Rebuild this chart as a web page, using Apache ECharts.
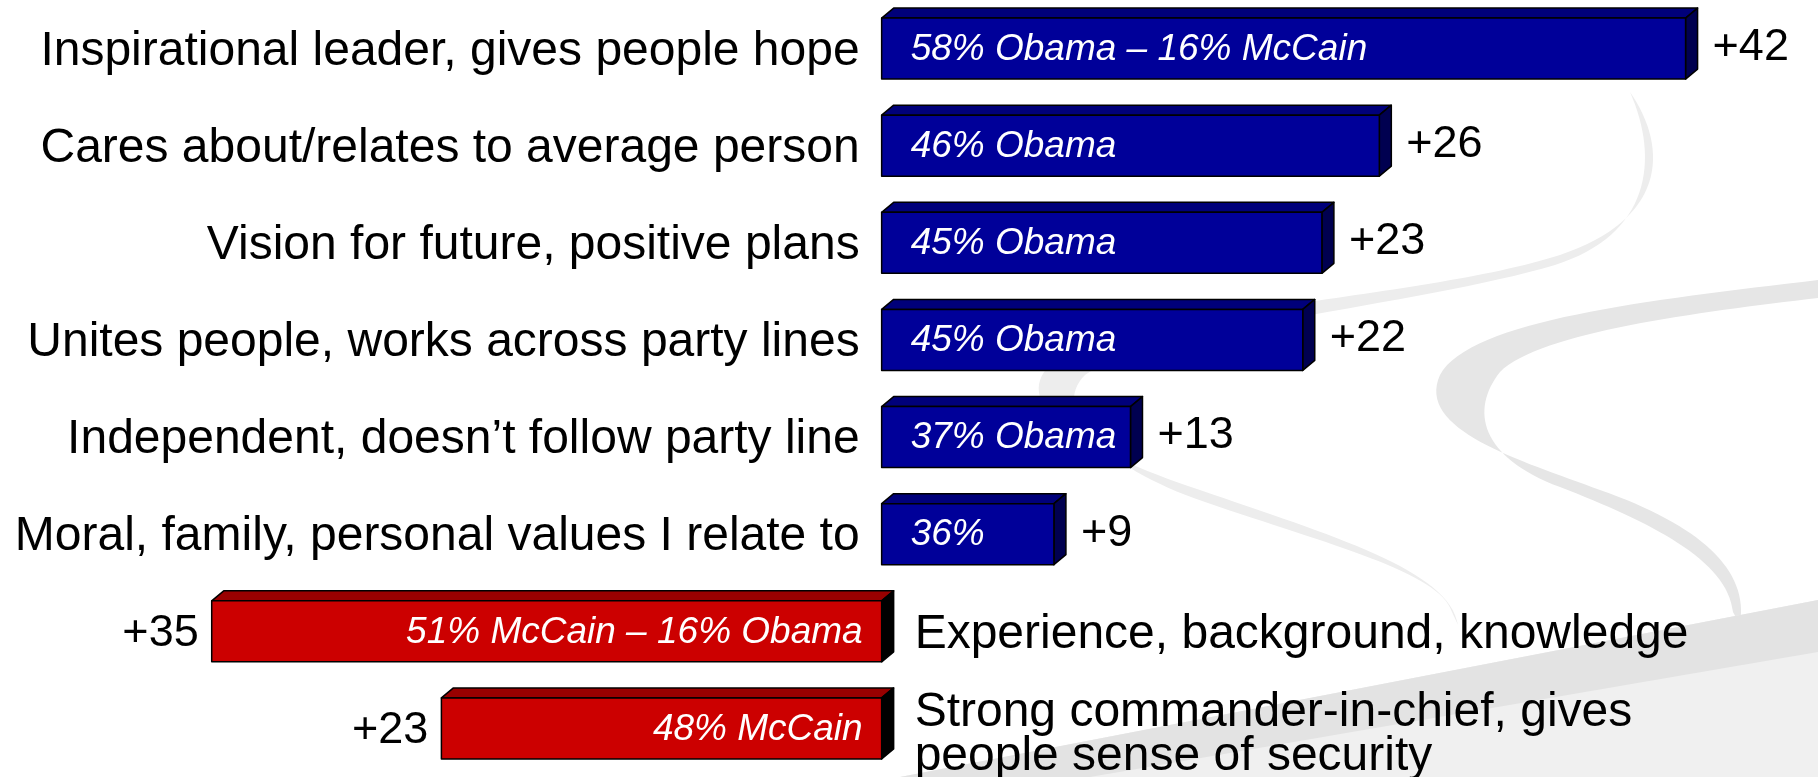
<!DOCTYPE html>
<html>
<head>
<meta charset="utf-8">
<title>Candidate attributes: Obama vs McCain</title>
<script src="https://cdn.jsdelivr.net/npm/echarts@6/dist/echarts.min.js"></script>
<style>
  html, body { margin: 0; padding: 0; background: #ffffff; }
  #chart { width: 1818px; height: 777px; }
</style>
</head>
<body>
<div id="chart"></div>
<script>
// Attributes and which candidate leads on each, with the lead in points
const categories = [
  'Inspirational leader, gives people hope',
  'Cares about/relates to average person',
  'Vision for future, positive plans',
  'Unites people, works across party lines',
  'Independent, doesn\u2019t follow party line',
  'Moral, family, personal values I relate to',
  'Experience, background, knowledge',
  'Strong commander-in-chief, gives\npeople sense of security'
];
const leaders = ['Obama', 'Obama', 'Obama', 'Obama', 'Obama', 'Obama', 'McCain', 'McCain'];
const margins = [42, 26, 23, 22, 13, 9, 35, 23];
const shareLabels = [
  '58% Obama \u2013 16% McCain',
  '46% Obama',
  '45% Obama',
  '45% Obama',
  '37% Obama',
  '36%',
  '51% McCain \u2013 16% Obama',
  '48% McCain'
];

// Obama leads grow to the right of zero, McCain leads to the left
const barData = categories.map((c, i) => [leaders[i] === 'McCain' ? -margins[i] : margins[i], i]);

const FONT = '"Liberation Sans", Arial, Helvetica, sans-serif';
const palette = {
  Obama: { front: '#000099', top: '#00007a', side: '#000050' },
  McCain: { front: '#cc0000', top: '#990000', side: '#000000' }
};

// Decorative swirl of the slide background
const swirlPaths = [
  { d: 'M 1630 92 C 1670 150, 1665 220, 1560 255 C 1420 300, 1120 310, 1050 365 C 1010 405, 1080 450, 1200 490 C 1330 535, 1450 570, 1458 625 L 1452 612 C 1440 572, 1330 545, 1205 502 C 1100 466, 1050 410, 1085 375 C 1150 330, 1420 305, 1555 265 C 1650 235, 1660 160, 1630 92 Z', fill: '#ededed' },
  { d: 'M 1818 280 C 1650 300, 1470 320, 1440 375 C 1415 430, 1520 460, 1600 490 C 1700 525, 1750 570, 1740 625 L 1733 612 C 1728 560, 1650 522, 1560 487 C 1480 457, 1470 410, 1500 372 C 1540 332, 1700 312, 1818 298 Z', fill: '#e6e6e6' },
  { d: 'M 900 777 L 1818 600 L 1818 777 Z', fill: '#f0f0f0' },
  { d: 'M 900 777 L 1818 600 L 1818 652 L 1090 777 Z', fill: '#e3e3e3' }
];

function renderSwirl() {
  return {
    type: 'group',
    children: swirlPaths.map(p => ({
      type: 'path',
      shape: { pathData: p.d },
      style: { fill: p.fill, stroke: null }
    }))
  };
}

function renderBar(params, api) {
  const v = api.value(0);
  const i = api.value(1);
  const p0 = api.coord([0, i]);
  const p1 = api.coord([v, i]);
  const cy = p0[1];
  const h = 61, dx = 12, dy = 10;
  const left = Math.min(p0[0], p1[0]);
  const right = Math.max(p0[0], p1[0]);
  const yt = cy - h / 2, yb = cy + h / 2;
  const isObama = leaders[i] === 'Obama';
  const col = palette[leaders[i]];
  const edge = { stroke: '#000000', lineWidth: 1.5, lineJoin: 'round' };
  const multiLine = categories[i].indexOf('\n') >= 0;

  return {
    type: 'group',
    children: [
      { type: 'polygon', shape: { points: [[left, yt], [left + dx, yt - dy], [right + dx, yt - dy], [right, yt]] },
        style: Object.assign({ fill: col.top }, edge) },
      { type: 'polygon', shape: { points: [[right, yt], [right + dx, yt - dy], [right + dx, yb - dy], [right, yb]] },
        style: Object.assign({ fill: col.side }, edge) },
      { type: 'rect', shape: { x: left, y: yt, width: right - left, height: h },
        style: Object.assign({ fill: col.front }, edge) },
      { type: 'text',
        style: {
          text: shareLabels[i], x: isObama ? left + 29 : right - 19, y: cy + 1,
          align: isObama ? 'left' : 'right', verticalAlign: 'middle',
          fill: '#ffffff', fontSize: 37, fontStyle: 'italic', fontFamily: FONT
        } },
      { type: 'text',
        style: {
          text: '+' + margins[i], x: isObama ? right + dx + 15 : left - 13, y: isObama ? cy - 1 : cy + 2,
          align: isObama ? 'left' : 'right', verticalAlign: 'middle',
          fill: '#000000', fontSize: 45, fontFamily: FONT
        } },
      { type: 'text',
        style: {
          text: categories[i], x: isObama ? left - 22 : right + dx + 21, y: cy + (multiLine ? 6 : 3),
          align: isObama ? 'right' : 'left', verticalAlign: 'middle',
          fill: '#000000', fontSize: 48, lineHeight: 44, fontFamily: FONT
        } }
    ]
  };
}

const chart = echarts.init(document.getElementById('chart'), null, { renderer: 'canvas' });

chart.setOption({
  backgroundColor: '#ffffff',
  animation: false,
  grid: { left: 116, right: 75, top: 0, bottom: 0, containLabel: false },
  xAxis: { type: 'value', min: -40, max: 45, show: false },
  yAxis: { type: 'category', data: categories, inverse: true, show: false },
  series: [
    {
      type: 'custom',
      z: 1,
      silent: true,
      coordinateSystem: 'none',
      renderItem: renderSwirl,
      data: [0]
    },
    {
      type: 'custom',
      z: 5,
      silent: true,
      renderItem: renderBar,
      encode: { x: 0, y: 1 },
      data: barData
    }
  ]
});
</script>
</body>
</html>
